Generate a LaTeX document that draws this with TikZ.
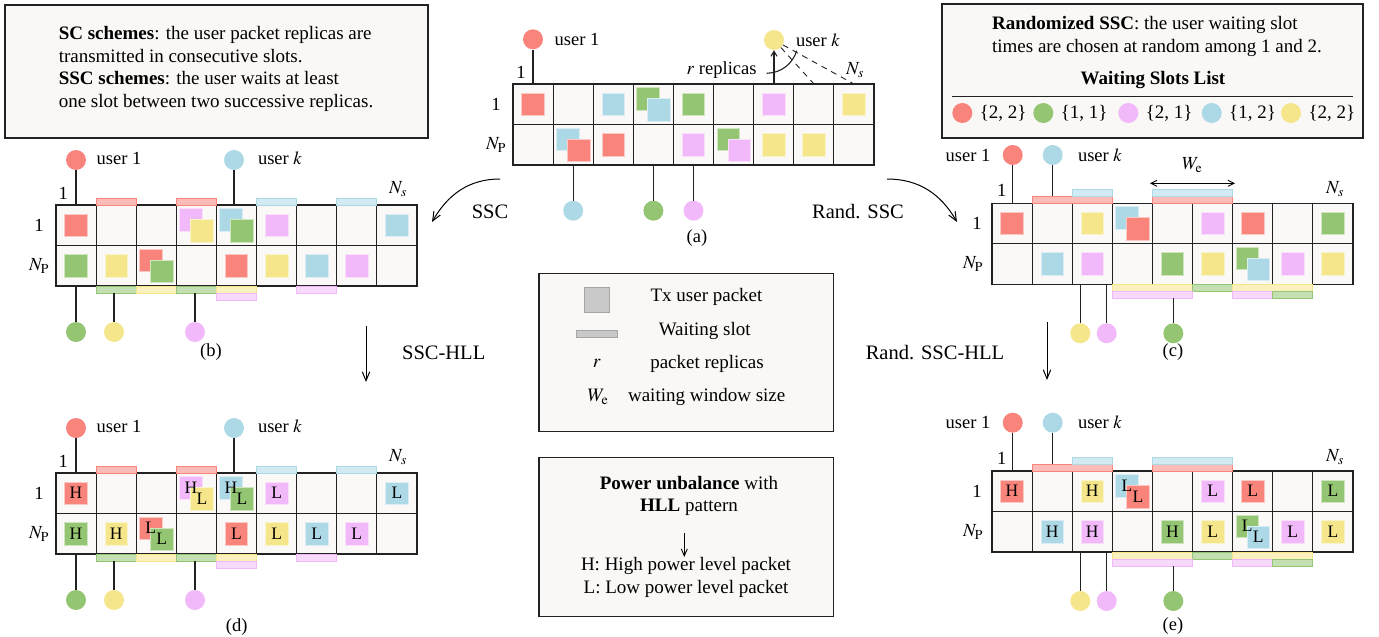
\documentclass[tikz,border=0pt]{standalone}
\usepackage{mathptmx}
\usepackage[no-math]{fontspec}
\setmainfont{Liberation Serif}
\usetikzlibrary{arrows.meta,calc}

\definecolor{cred}{HTML}{F8847B}
\definecolor{cblue}{HTML}{ADD8E6}
\definecolor{cgreen}{HTML}{93C572}
\definecolor{cpink}{HTML}{F1B9F9}
\definecolor{cyellow}{HTML}{F5E68B}
\definecolor{cellbg}{HTML}{FAF9F7}
\definecolor{boxbg}{HTML}{F9F8F6}
\definecolor{ink}{HTML}{222222}
\definecolor{legfill}{HTML}{C9C9C9}
\definecolor{legdraw}{HTML}{A5A5A5}

\pgfdeclarelayer{fg}
\pgfsetlayers{main,fg}

\newcommand\fsN{\fontsize{19}{22.5}\selectfont}
\newcommand\fsU{\fontsize{18.5}{22}\selectfont}
\newcommand\fsA{\fontsize{20.5}{24}\selectfont}
\newcommand\fsP{\fontsize{17.5}{18}\selectfont}

% slot grid geometry (one unit = 1pt)
\newcommand\cw{40.11}
\newcommand\ch{40.5}
\newif\ifhll

% empty 2 x 9 slot grid, local origin at its top-left corner
\newcommand\slotgrid{%
  \fill[cellbg] (0,0) rectangle (9*\cw,2*\ch);
  \foreach \i in {1,...,8} \draw[gridline] (\i*\cw,0) -- (\i*\cw,2*\ch);
  \draw[gridline] (0,\ch) -- (9*\cw,\ch);
  \draw[gridframe] (0,0) rectangle (9*\cw,2*\ch);}

% packet: column, row, colour, offset (-1 upper-left, 0 centre, 1 lower-right), power label
\newcommand\pkt[5]{%
  \node[pkt,fill=#3,draw=#3!45!white] at ({(#1-0.5)*\cw+#4*5.5},{(#2-0.5)*\ch+#4*5.5}) {};
  \ifhll\begin{pgfonlayer}{fg}\node[pktlabel] at ({(#1-0.5)*\cw+#4*5.5},{(#2-0.5)*\ch+#4*5.5}) {#5};\end{pgfonlayer}\fi}

% waiting-slot bars above (tbar) and below (bbar) the grid: first column, length, colour, level
\newcommand\tbar[4]{\draw[bar=#3] ({(#1-1)*\cw},{-7*#4}) rectangle ({(#1-1+#2)*\cw},{-7*(#4-1)});}
\newcommand\bbar[4]{\draw[bar=#3] ({(#1-1)*\cw},{2*\ch+7*(#4-1)}) rectangle ({(#1-1+#2)*\cw},{2*\ch+7*#4});}

% SSC frame (with or without power levels)
\newcommand\panelBD[3]{%
  \slotgrid
  \pkt{1}{1}{cred}{0}{H}
  \pkt{4}{1}{cpink}{-1}{H}\pkt{4}{1}{cyellow}{1}{L}
  \pkt{5}{1}{cblue}{-1}{H}\pkt{5}{1}{cgreen}{1}{L}
  \pkt{6}{1}{cpink}{0}{L}
  \pkt{9}{1}{cblue}{0}{L}
  \pkt{1}{2}{cgreen}{0}{H}
  \pkt{2}{2}{cyellow}{0}{H}
  \pkt{3}{2}{cred}{-1}{L}\pkt{3}{2}{cgreen}{1}{L}
  \pkt{5}{2}{cred}{0}{L}
  \pkt{6}{2}{cyellow}{0}{L}
  \pkt{7}{2}{cblue}{0}{L}
  \pkt{8}{2}{cpink}{0}{L}
  \tbar{2}{1}{cred}{1}\tbar{4}{1}{cred}{1}\tbar{6}{1}{cblue}{1}\tbar{8}{1}{cblue}{1}
  \bbar{2}{1}{cgreen}{1}\bbar{3}{1}{cyellow}{1}\bbar{4}{1}{cgreen}{1}\bbar{5}{1}{cyellow}{1}
  \bbar{7}{1}{cpink}{1}\bbar{5}{1}{cpink}{2}
  \node[user,fill=cred] (#1-u1) at (20,-45) {};
  \node[txt] (#1-u1t) at (63,-47) {user 1};
  \coordinate (#1-u1g) at (20,0);
  \draw[wire] (#1-u1) -- (#1-u1g);
  \node[user,fill=cblue] (#1-uk) at (178,-45) {};
  \node[txt] (#1-ukt) at (224,-47) {user $k$};
  \coordinate (#1-ukg) at (178,0);
  \draw[wire] (#1-uk) -- (#1-ukg);
  \node[txt] (#1-c1) at (7.3,-12) {1};
  \node[txt] (#1-ns) at (342,-16) {$N_s$};
  \node[txt] (#1-r1) at (-17,20.25) {1};
  \node[txt] (#1-rp) at (-17,60.75) {$N_\mathrm{P}$};
  \node[user,fill=cgreen] (#1-dg) at (20,127) {};
  \coordinate (#1-dgg) at (20,81);
  \draw[wire] (#1-dg) -- (#1-dgg);
  \node[user,fill=cyellow] (#1-dy) at (58,127) {};
  \coordinate (#1-dyg) at (58,88);
  \draw[wire] (#1-dy) -- (#1-dyg);
  \node[user,fill=cpink] (#1-dp) at (139,127) {};
  \coordinate (#1-dpg) at (139,88);
  \draw[wire] (#1-dp) -- (#1-dpg);
  \node[txt] (#1-cap) at (#3) {#2};}

% randomized SSC frame (with or without power levels)
\newcommand\panelCE[3]{%
  \slotgrid
  \pkt{1}{1}{cred}{0}{H}
  \pkt{3}{1}{cyellow}{0}{H}
  \pkt{4}{1}{cblue}{-1}{L}\pkt{4}{1}{cred}{1}{L}
  \pkt{6}{1}{cpink}{0}{L}
  \pkt{7}{1}{cred}{0}{L}
  \pkt{9}{1}{cgreen}{0}{L}
  \pkt{2}{2}{cblue}{0}{H}
  \pkt{3}{2}{cpink}{0}{H}
  \pkt{5}{2}{cgreen}{0}{H}
  \pkt{6}{2}{cyellow}{0}{L}
  \pkt{7}{2}{cgreen}{-1}{L}\pkt{7}{2}{cblue}{1}{L}
  \pkt{8}{2}{cpink}{0}{L}
  \pkt{9}{2}{cyellow}{0}{L}
  \tbar{2}{2}{cred}{1}\tbar{3}{1}{cblue}{2}\tbar{5}{2}{cred}{1}\tbar{5}{2}{cblue}{2}
  \bbar{4}{2}{cyellow}{1}\bbar{6}{1}{cgreen}{1}\bbar{7}{2}{cyellow}{1}
  \bbar{4}{2}{cpink}{2}\bbar{7}{1}{cpink}{2}\bbar{8}{1}{cgreen}{2}
  \node[user,fill=cred] (#1-u1) at (20.7,-48.3) {};
  \node[txt] (#1-u1t) at (-24,-48.3) {user 1};
  \coordinate (#1-u1g) at (20.7,0);
  \draw[wire] (#1-u1) -- (#1-u1g);
  \node[user,fill=cblue] (#1-uk) at (60.7,-48.3) {};
  \node[txt] (#1-ukt) at (108,-48.3) {user $k$};
  \coordinate (#1-ukg) at (60.7,-7);
  \draw[wire] (#1-uk) -- (#1-ukg);
  \node[txt] (#1-c1) at (9.7,-12.6) {1};
  \node[txt] (#1-ns) at (343,-14) {$N_s$};
  \node[txt] (#1-r1) at (-15,20.25) {1};
  \node[txt] (#1-rp) at (-19,60.75) {$N_\mathrm{P}$};
  \node[user,fill=cyellow] (#1-dy) at (88.3,130) {};
  \coordinate (#1-dyg) at (88.3,81);
  \draw[wire] (#1-dy) -- (#1-dyg);
  \node[user,fill=cpink] (#1-dp) at (114.7,130) {};
  \coordinate (#1-dpg) at (114.7,81);
  \draw[wire] (#1-dp) -- (#1-dpg);
  \node[user,fill=cgreen] (#1-dg) at (181.3,130) {};
  \coordinate (#1-dgg) at (181.3,95);
  \draw[wire] (#1-dg) -- (#1-dgg);
  \node[txt] (#1-cap) at (#3) {#2};}

\begin{document}
\begin{tikzpicture}[x=1pt,y=-1pt,
  gridline/.style={draw=ink,line width=1.2pt},
  gridframe/.style={draw=ink,line width=1.6pt},
  pkt/.style={minimum size=22.5pt,inner sep=0pt,line width=0.7pt},
  pktlabel/.style={font=\fsP,inner sep=0pt},
  bar/.style={fill=#1!55!white,draw=#1,line width=0.8pt},
  user/.style={circle,minimum size=20pt,inner sep=0pt},
  wire/.style={draw=ink,line width=1.1pt},
  txt/.style={font=\fsU,inner sep=0pt},
  flow/.style={draw=black,line width=1pt,-{Straight Barb[length=9pt,width=7.5pt]}},
  infobox/.style={fill=boxbg,draw=ink,line width=1.2pt},
]
\useasboundingbox (0,0) rectangle (1379,637);

% ---------- explanatory boxes ----------
\draw[infobox] (5,5) rectangle (428,138);
\node[font=\fsN,align=left] (sc) at (216,69)
  {\textbf{SC schemes}: the user packet replicas are\\
   transmitted in consecutive slots.\\
   \textbf{SSC schemes}: the user waits at least\\
   one slot between two successive replicas.};

\draw[infobox] (942,4) rectangle (1363,138);
\node[font=\fsN,align=left] (rs) at (1157,36.5)
  {\textbf{Randomized SSC}: the user waiting slot\\
   times are chosen at random among 1 and 2.};
\node[font=\fsN\bfseries] (wl) at (1153,80) {Waiting Slots List};
\coordinate (wl-a) at (952,96);
\coordinate (wl-b) at (1353,96);
\draw[draw=ink,line width=1pt] (wl-a) -- (wl-b);
\foreach \c/\x/\t in {cred/962.3/{\{2, 2\}},cgreen/1043.3/{\{1, 1\}},cpink/1128.3/{\{2, 1\}},cblue/1211.7/{\{1, 2\}},cyellow/1291/{\{2, 2\}}}{
  \node[user,fill=\c] (ws-\c) at (\x,113) {};
  \node[font=\fsN,anchor=west] (wt-\c) at (\x+14,113) {\t};
}

% legend
\draw[infobox] (539,273.3) rectangle (833.3,431.7);
\node[minimum size=25pt,inner sep=0pt,fill=legfill,draw=legdraw,line width=0.8pt] (lg-p) at (596.7,299.8) {};
\node[minimum width=41pt,minimum height=7pt,inner sep=0pt,fill=legfill,draw=legdraw,line width=0.8pt] (lg-w) at (596.7,333.7) {};
\node[font=\fsN] (lg-r) at (596.7,363.3) {$r$};
\node[font=\fsN] (lg-we) at (598,397) {$W_\mathrm{e}$};
\node[font=\fsN] (lg-pt) at (706.5,296.7) {Tx user packet};
\node[font=\fsN] (lg-wt) at (704.7,330.5) {Waiting slot};
\node[font=\fsN] (lg-rt) at (707,363.5) {packet replicas};
\node[font=\fsN] (lg-wet) at (706.7,396.7) {waiting window size};

% power levels
\draw[infobox] (539,457.3) rectangle (833.3,616.7);
\node[font=\fsN,align=center] (pw) at (689,495.8)
  {\textbf{Power unbalance} with\\ \textbf{HLL} pattern};
\node[font=\fsN,align=center] (hl) at (686,577.5)
  {H: High power level packet\\ L: Low power level packet};
\coordinate (pw-a) at (684.3,533);
\coordinate (pw-b) at (684.3,557);
\draw[draw=black,line width=0.9pt,-{Straight Barb[length=7pt,width=6pt]}] (pw-a) -- (pw-b);

% ---------- (a) generic frame ----------
\hllfalse
\begin{scope}[shift={(513,84)}]
  \slotgrid
  \pkt{1}{1}{cred}{0}{}
  \pkt{3}{1}{cblue}{0}{}
  \pkt{4}{1}{cgreen}{-1}{}\pkt{4}{1}{cblue}{1}{}
  \pkt{5}{1}{cgreen}{0}{}
  \pkt{7}{1}{cpink}{0}{}
  \pkt{9}{1}{cyellow}{0}{}
  \pkt{2}{2}{cblue}{-1}{}\pkt{2}{2}{cred}{1}{}
  \pkt{3}{2}{cred}{0}{}
  \pkt{5}{2}{cpink}{0}{}
  \pkt{6}{2}{cgreen}{-1}{}\pkt{6}{2}{cpink}{1}{}
  \pkt{7}{2}{cyellow}{0}{}
  \pkt{8}{2}{cyellow}{0}{}
  \node[user,fill=cred] (a-u1) at (20,-44.7) {};
  \node[txt] (a-u1t) at (64,-45) {user 1};
  \coordinate (a-u1g) at (20,0);
  \draw[wire] (a-u1) -- (a-u1g);
  \node[user,fill=cyellow] (a-uk) at (261,-44) {};
  \node[txt] (a-ukt) at (305,-44) {user $k$};
  \coordinate (a-ukg) at (261,0);
  \coordinate (a-d8) at (301,0);
  \coordinate (a-d9) at (341,0);
  \draw[wire,-{Straight Barb[length=5pt,width=6pt]}] (a-ukg) -- (a-uk);
  \draw[wire,line width=0.9pt,dash pattern=on 6pt off 5pt] (a-uk) -- (a-d8);
  \draw[wire,line width=0.9pt,dash pattern=on 6pt off 5pt] (a-uk) -- (a-d9);
  \coordinate (a-arc0) at (253.7,-10.7);
  \coordinate (a-arc1) at (283.7,-33.3);
  \draw[wire] (a-arc0) .. controls (269,-11) and (280,-21) .. (a-arc1);
  \node[txt,anchor=east] (a-rep) at (243.7,-14) {$r$ replicas};
  \node[txt] (a-ns) at (342,-14) {$N_s$};
  \node[txt] (a-c1) at (8,-11.3) {1};
  \node[txt] (a-r1) at (-17,20.25) {1};
  \node[txt] (a-rp) at (-17,60.75) {$N_\mathrm{P}$};
  \node[user,fill=cblue] (a-db) at (60.2,126.7) {};
  \coordinate (a-dbg) at (60.2,81);
  \draw[wire] (a-db) -- (a-dbg);
  \node[user,fill=cgreen] (a-dg) at (140.4,126.7) {};
  \coordinate (a-dgg) at (140.4,81);
  \draw[wire] (a-dg) -- (a-dgg);
  \node[user,fill=cpink] (a-dp) at (180.5,126.7) {};
  \coordinate (a-dpg) at (180.5,81);
  \draw[wire] (a-dp) -- (a-dpg);
  \node[txt] (a-cap) at (184,154) {(a)};
\end{scope}

% ---------- (b) SSC ----------
\begin{scope}[shift={(56,205)}]
  \panelBD{b}{(b)}{155,147}
\end{scope}

% ---------- (d) SSC-HLL ----------
\hlltrue
\begin{scope}[shift={(56,473)}]
  \panelBD{d}{(d)}{180.7,153.7}
\end{scope}

% ---------- (c) randomized SSC ----------
\hllfalse
\begin{scope}[shift={(992,203.3)}]
  \panelCE{c}{(c)}{181,148.7}
  \coordinate (c-wl) at (158,-20);
  \coordinate (c-wr) at (243,-20);
  \draw[draw=black,line width=0.9pt,{Straight Barb[length=6pt,width=6pt]}-{Straight Barb[length=6pt,width=6pt]}] (c-wl) -- (c-wr);
  \node[txt] (c-we) at (200,-38.3) {$W_\mathrm{e}$};
\end{scope}

% ---------- (e) randomized SSC-HLL ----------
\hlltrue
\begin{scope}[shift={(992,471)}]
  \panelCE{e}{(e)}{181,155}
\end{scope}

% ---------- transitions between the frames ----------
\coordinate (t-ssc0) at (500,179);
\coordinate (t-ssc1) at (432,222);
\draw[flow] (t-ssc0) to[out=180,in=60] (t-ssc1);
\node[font=\fsA] (t-ssc) at (490,212) {SSC};

\coordinate (t-rs0) at (887,179);
\coordinate (t-rs1) at (957,222);
\draw[flow] (t-rs0) to[out=0,in=120] (t-rs1);
\node[font=\fsA] (t-rs) at (858,212) {Rand. SSC};

\coordinate (t-h0) at (366,326);
\coordinate (t-h1) at (366,382);
\draw[flow] (t-h0) -- (t-h1);
\node[font=\fsA] (t-h) at (443.7,353.3) {SSC-HLL};

\coordinate (t-rh0) at (1047,322);
\coordinate (t-rh1) at (1047,380);
\draw[flow] (t-rh0) -- (t-rh1);
\node[font=\fsA] (t-rh) at (935,353) {Rand. SSC-HLL};

\end{tikzpicture}
\end{document}
